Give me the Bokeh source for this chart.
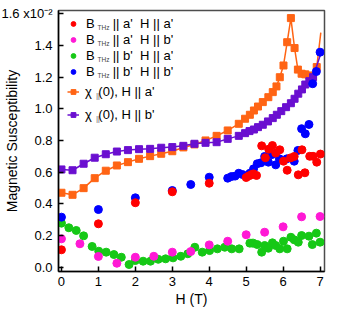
from bokeh.plotting import figure
from bokeh.models import Range1d, Legend, LegendItem, Label, FixedTicker
from bokeh.embed import file_html
from bokeh.resources import INLINE

# ---------------- data (susceptibility in units of 1e-2) ----------------
chi_a_H = [0, 0.3, 0.6, 0.9, 1.2, 1.5, 1.8, 2.1, 2.4, 2.7, 3.0, 3.3, 3.6, 3.9, 4.2, 4.5, 4.8,
           4.97, 5.1, 5.21, 5.32, 5.45, 5.6, 5.72, 5.82, 5.91,
           6.01, 6.11, 6.21, 6.31, 6.4, 6.5, 6.6, 6.71, 6.81, 6.91, 7.02]
chi_a = [0.470, 0.457, 0.499, 0.562, 0.609, 0.642, 0.663, 0.684, 0.701, 0.716, 0.732, 0.756,
         0.775, 0.800, 0.829, 0.863, 0.905,
         0.937, 0.962, 0.989, 1.014, 1.042, 1.073, 1.105, 1.141, 1.199,
         1.273, 1.42, 1.572, 1.383, 1.247, 1.221, 1.217, 1.210, 1.204, 1.263, 1.48]

chi_b_H = [0, 0.3, 0.6, 0.9, 1.2, 1.5, 1.8, 2.1, 2.4, 2.7, 3.0, 3.3, 3.6, 3.9, 4.2, 4.5, 4.8,
           4.97, 5.09, 5.21, 5.32, 5.45, 5.59, 5.72, 5.83, 5.95, 6.08, 6.21, 6.31, 6.41, 6.51,
           6.6, 6.71, 6.81, 7.0]
chi_b = [0.617, 0.612, 0.653, 0.691, 0.713, 0.730, 0.739, 0.745, 0.747, 0.754, 0.758, 0.766,
         0.779, 0.785, 0.789, 0.810, 0.829,
         0.846, 0.859, 0.869, 0.884, 0.899, 0.920, 0.941, 0.962, 0.985, 1.010, 1.035, 1.063,
         1.095, 1.122, 1.153, 1.174, 1.199, 1.335]

red_H = [0, 1, 2, 3, 4, 5.0, 5.08, 5.15, 5.2, 5.28, 5.42, 5.52, 5.61, 5.71, 5.8, 5.91, 6.01,
         6.11, 6.2, 6.3, 6.41, 6.51, 6.59, 6.72, 6.81, 6.91, 7.01]
red_v = [0.11, 0.274, 0.407, 0.476, 0.53, 0.566, 0.577, 0.585, 0.589, 0.579, 0.766, 0.691,
         0.745, 0.768, 0.72, 0.741, 0.669, 0.612, 0.69, 0.699, 0.583, 0.741, 0.596, 0.70,
         0.70, 0.663, 0.714]

mag_H = [0, 0.5, 1, 1.5, 2, 2.5, 3, 3.5, 4, 4.5, 5, 5.5, 6, 6.5, 7]
mag_v = [0.179, 0.148, 0.068, 0.025, 0.063, 0.069, 0.095, 0.099, 0.141, 0.164, 0.205, 0.221,
         0.255, 0.318, 0.32]

grn_H = [0, 0.2, 0.4, 0.6, 0.83, 1.01, 1.21, 1.42, 1.62, 1.83, 2.0, 2.21, 2.41, 2.62, 2.82,
         3.02, 3.23, 3.42, 3.61, 3.81, 4.01, 4.22, 4.42, 4.61, 4.81, 5.1, 5.19, 5.3, 5.42,
         5.5, 5.6, 5.71, 5.8, 5.91, 6.01, 6.11, 6.21, 6.3, 6.41, 6.5, 6.7, 6.79, 6.9, 7.0]
grn_v = [0.278, 0.249, 0.232, 0.198, 0.131, 0.101, 0.095, 0.08, 0.063, 0.017, 0.042, 0.038,
         0.038, 0.05, 0.053, 0.059, 0.069, 0.085, 0.126, 0.095, 0.105, 0.116, 0.126, 0.116,
         0.116, 0.152, 0.152, 0.143, 0.095, 0.137, 0.12, 0.154, 0.137, 0.116, 0.164, 0.116,
         0.189, 0.173, 0.158, 0.2, 0.196, 0.143, 0.215, 0.158]

blu_H = [0, 1, 2, 3, 3.5, 4, 4.5, 4.6, 4.7, 4.8, 4.9, 5.1, 5.2, 5.3, 5.4, 5.5, 5.6, 5.7, 5.8,
         5.9, 6.1, 6.3, 6.4, 6.5, 6.6, 6.7, 6.8, 6.9, 7.0]
blu_v = [0.316, 0.364, 0.438, 0.484, 0.522, 0.568, 0.562, 0.572, 0.575, 0.593, 0.585, 0.593,
         0.621, 0.653, 0.659, 0.699, 0.663, 0.711, 0.646, 0.684, 0.684, 0.669, 0.737, 0.874,
         0.842, 0.901, 1.158, 1.235, 1.357]

x_ticks = [0, 1, 2, 3, 4, 5, 6, 7]
y_ticks = [0.0, 0.2, 0.4, 0.6, 0.8, 1.0, 1.2, 1.4, 1.6]
y_tick_labels = ["0.0", "0.2", "0.4", "0.6", "0.8", "1.0", "1.2", "1.4", "1.6 x10\u207b\u00b2"]

scatter_labels = ["B     || a'  H || a'", "B     || a'  H || b'",
                  "B     || b'  H || a'", "B     || b'  H || b'"]
line_labels = ["\u03c7\u2002(0), H || a'", "\u03c7\u2002(0), H || b'"]

RED, MAG, GRN, BLU = "#ff0000", "#ff19d5", "#16c816", "#0000ff"
ORG, PUR = "#ff6414", "#6a0fd0"
FONT = "Liberation Sans"

W, H = 353, 314
BL, BR, BT, BB = 58, 29, 10, 43
FW, FH = W - BL - BR, H - BT - BB
p = figure(width=W, height=H,
           x_range=Range1d(-0.08, 7.12), y_range=Range1d(-0.027, 1.62),
           output_backend="svg", toolbar_location=None,
           min_border_left=BL, min_border_right=BR, min_border_top=BT, min_border_bottom=BB)
p.grid.visible = False
p.background_fill_color = "white"
p.border_fill_color = "white"
p.outline_line_color = "#4d4d4d"
p.outline_line_width = 1.5

for ax in (p.xaxis[0], p.yaxis[0]):
    ax.axis_line_color = "black"
    ax.axis_line_width = 1.5
    ax.major_tick_line_color = "black"
    ax.major_tick_line_width = 1.5
    ax.major_tick_in = 5
    ax.major_tick_out = 0
    ax.minor_tick_line_color = None
    ax.major_label_text_font = FONT
    ax.major_label_text_font_size = "13px"
    ax.major_label_text_color = "black"
    ax.axis_label_text_font = FONT
    ax.axis_label_text_font_size = "14px"
    ax.axis_label_text_font_style = "normal"
    ax.axis_label_text_color = "black"

p.xaxis.ticker = FixedTicker(ticks=x_ticks)
p.yaxis.ticker = FixedTicker(ticks=y_ticks)
p.yaxis.major_label_overrides = {t: s for t, s in zip(y_ticks, y_tick_labels)}
p.xaxis.axis_label = "H (T)"
p.yaxis.axis_label = "Magnetic Susceptibility"
p.xaxis.major_label_standoff = 5
p.xaxis.axis_label_standoff = 2
p.yaxis.major_label_standoff = 6
p.yaxis.axis_label_standoff = -21

# curves
la = p.line(chi_a_H, chi_a, line_color=ORG, line_width=1.5)
sa = p.scatter(chi_a_H[:-1], chi_a[:-1], marker="square", size=7, fill_color=ORG, line_color=ORG)
lb = p.line(chi_b_H, chi_b, line_color=PUR, line_width=1.5)
sb = p.scatter(chi_b_H[:-1], chi_b[:-1], marker="square", size=7, fill_color=PUR, line_color=PUR)

# THz data
rg = p.scatter(grn_H, grn_v, size=8, fill_color=GRN, line_color=GRN)
rb = p.scatter(blu_H, blu_v, size=8, fill_color=BLU, line_color=BLU)
rm = p.scatter(mag_H, mag_v, size=8, fill_color=MAG, line_color=MAG)
rr = p.scatter(red_H, red_v, size=8, fill_color=RED, line_color=RED)

def style(leg):
    leg.label_text_font = FONT
    leg.label_text_font_size = "13px"
    leg.label_text_color = "black"
    leg.border_line_color = None
    leg.background_fill_alpha = 0
    leg.margin = 0
    leg.glyph_width = 12

# scatter legend
P1, LH1, SP1 = 3, 15, 1
leg1 = Legend(items=[LegendItem(label=l, renderers=[r]) for l, r in
                     zip(scatter_labels, [rr, rm, rg, rb])])
style(leg1)
leg1.padding = P1
leg1.label_height = LH1
leg1.glyph_height = LH1
leg1.spacing = SP1
leg1.label_standoff = 7
L1 = 2 * P1 + 4 * LH1 + 3 * SP1
leg1.location = (9, FH - L1)
p.add_layout(leg1)

# line legend
P2, LH2 = 3, 23
leg2 = Legend(items=[LegendItem(label=l, renderers=r) for l, r in
                     zip(line_labels, [[la, sa], [lb, sb]])])
style(leg2)
leg2.padding = P2
leg2.label_height = LH2
leg2.glyph_height = LH2
leg2.spacing = 0
leg2.label_standoff = 6
L2 = 2 * P2 + 2 * LH2
top2 = 64
leg2.location = (9, FH - top2 - L2)
p.add_layout(leg2)

# subscripts
txt1 = 9 + P1 + 12 + 7
for i in range(4):
    cy = P1 + LH1 / 2 + i * (LH1 + SP1)
    p.add_layout(Label(x=txt1 + 8, y=FH - cy - 6, x_units="screen", y_units="screen",
                       text="THz", text_font=FONT, text_font_size="6.5px",
                       text_baseline="alphabetic", text_align="left"))
txt2 = 9 + P2 + 12 + 6
for i in range(2):
    cy = top2 + P2 + LH2 / 2 + i * LH2
    p.add_layout(Label(x=txt2 + 7.8, y=FH - cy - 6, x_units="screen", y_units="screen",
                       text="||", text_font=FONT, text_font_size="6.5px",
                       text_baseline="alphabetic", text_align="left"))

open("out.html", "w").write(file_html(p, INLINE))
